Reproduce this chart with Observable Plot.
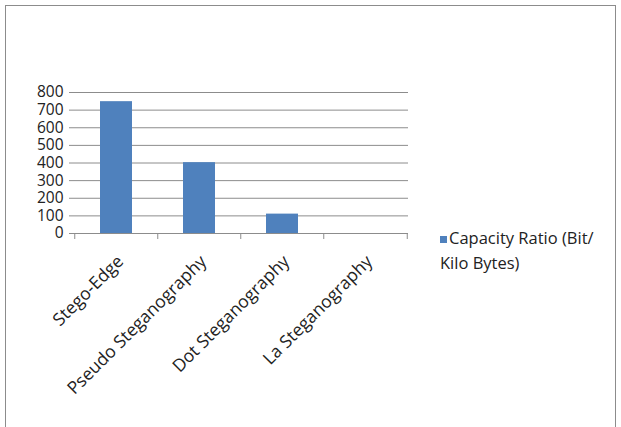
<!DOCTYPE html>
<html>
<head>
<meta charset="utf-8">
<script src="https://cdn.jsdelivr.net/npm/d3@7"></script>
<script src="https://cdn.jsdelivr.net/npm/@observablehq/plot@0.6"></script>
<style>
  html, body { margin: 0; padding: 0; background: #fff; }
  #wrap { position: relative; width: 621px; height: 427px; overflow: hidden; font-family: "Open Sans", sans-serif; }
  #frame { position: absolute; left: 5px; top: 5px; width: 611px; height: 440px; border: 1px solid #8c8c8c; box-sizing: border-box; }
  #chart { position: absolute; left: 0; top: 0; }
  #legend { position: absolute; left: 440px; top: 225px; font-size: 16.5px; line-height: 25px; color: #222; }
  #legend .sw { display: inline-block; width: 7px; height: 7px; background: #4f81bd; margin-right: 2px; vertical-align: 1px; }
</style>
</head>
<body>
<div id="wrap">
  <div id="frame"></div>
  <div id="chart"></div>
  <div id="legend"><span class="sw"></span>Capacity Ratio (Bit/<br>Kilo Bytes)</div>
</div>
<script>
const categories = ["Stego-Edge", "Pseudo Steganography", "Dot Steganography", "La Steganography"];
const values = [748, 402, 110, 0];
const yTicks = [0, 100, 200, 300, 400, 500, 600, 700, 800];
const seriesName = "Capacity Ratio (Bit/ Kilo Bytes)";

const data = categories.map((c, i) => ({category: c, value: values[i]}));

const width = 621, height = 427;
const marginLeft = 74, marginRight = 213, marginTop = 92, marginBottom = 194;
const step = (width - marginLeft - marginRight) / categories.length;
const gray = "#8c8c8c";

const chart = Plot.plot({
  width, height, marginLeft, marginRight, marginTop, marginBottom,
  style: {fontFamily: "'Open Sans', sans-serif", color: "#222", background: "transparent"},
  x: {domain: categories, paddingInner: 0.61, paddingOuter: 0.305},
  y: {domain: [0, 800]},
  marks: [
    Plot.gridY(yTicks, {stroke: gray, strokeOpacity: 1, strokeWidth: 1}),
    Plot.axisY(yTicks, {tickSize: 5, tickPadding: 6, stroke: gray, fontSize: 15.5, label: null, tickFormat: d => String(d)}),
    Plot.barY(data, {x: "category", y: "value", fill: "#4f81bd"}),
    Plot.ruleY([0], {stroke: gray}),
    Plot.axisX({tickSize: 6, text: null, stroke: gray, dx: -step / 2, label: null}),
    Plot.axisX([categories[categories.length - 1]], {tickSize: 6, text: null, stroke: gray, dx: step / 2, label: null}),
    Plot.axisX({tickSize: 0, tickPadding: 25, tickRotate: -45, fontSize: 17.5, label: null, dx: 4})
  ]
});
document.getElementById("chart").appendChild(chart);
</script>
</body>
</html>
